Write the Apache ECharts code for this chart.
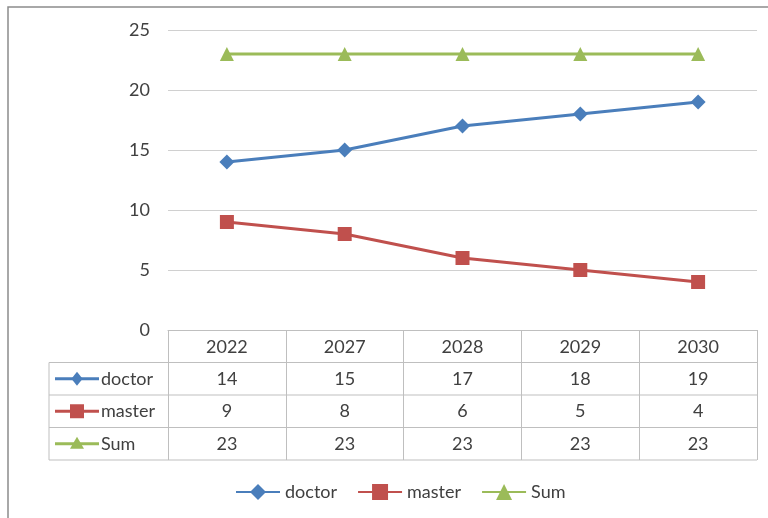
<!DOCTYPE html>
<html>
<head>
<meta charset="utf-8">
<script src="https://cdn.jsdelivr.net/npm/echarts@6/dist/echarts.min.js"></script>
<style>
  html, body { margin: 0; padding: 0; background: #fff; }
  #main { width: 768px; height: 518px; }
</style>
</head>
<body>
<div id="main"></div>
<script>
// chart data
var years = ['2022', '2027', '2028', '2029', '2030'];
var doctor = [14, 15, 17, 18, 19];
var master = [9, 8, 6, 5, 4];
var sum = [23, 23, 23, 23, 23];

var seriesNames = ['doctor', 'master', 'Sum'];
var seriesData = [doctor, master, sum];
var seriesColors = ['#4a7ebb', '#c0504d', '#9bbb59'];
var seriesSymbols = ['diamond', 'rect', 'triangle'];

var FONT = 'Lato';
var gridLeft = 168, gridTop = 30, gridRight = 11, plotHeight = 300;
var rowH = 32.5, tableLeft = 49;

var chart = echarts.init(document.getElementById('main'));

var series = seriesNames.map(function (name, i) {
    return {
        name: name,
        type: 'line',
        data: seriesData[i],
        symbol: seriesSymbols[i],
        symbolSize: i === 0 ? 15 : 14,
        itemStyle: { color: seriesColors[i] },
        lineStyle: { color: seriesColors[i], width: 3 },
        animation: false
    };
});

chart.setOption({
    backgroundColor: '#fff',
    animation: false,
    grid: { left: gridLeft, right: gridRight, top: gridTop, height: plotHeight },
    legend: {
        data: seriesNames,
        left: 230,
        top: 478,
        itemWidth: 44,
        itemHeight: 20,
        itemGap: 20,
        textStyle: { fontFamily: FONT, fontSize: 18, color: '#404040' }
    },
    xAxis: {
        type: 'category',
        data: years,
        boundaryGap: true,
        axisLine: { show: true, lineStyle: { color: '#bfbfbf', width: 1 } },
        axisTick: { show: true, inside: false, length: rowH * 4, interval: 0,
                    lineStyle: { color: '#bfbfbf', width: 1 } },
        axisLabel: { margin: 8, fontFamily: FONT, fontSize: 18, color: '#404040' },
        splitLine: { show: false }
    },
    yAxis: {
        type: 'value',
        min: 0,
        max: 25,
        interval: 5,
        axisLine: { show: false },
        axisTick: { show: false },
        axisLabel: { margin: 18, fontFamily: FONT, fontSize: 18, color: '#404040' },
        splitLine: { lineStyle: { color: '#d0d0d0', width: 1.2 } }
    },
    series: series
});

// data table below the plot
function buildTable() {
    var base = gridTop + plotHeight;
    var right = 768 - gridRight;
    var g = [];
    // outer frame of chart
    g.push({ type: 'rect', shape: { x: 8, y: 7, width: 800, height: 600 },
             style: { fill: null, stroke: '#8c8c8c', lineWidth: 1.5 }, z: 1 });
    for (var r = 1; r <= 4; r++) {
        g.push({ type: 'line', shape: { x1: tableLeft, y1: base + r * rowH, x2: right, y2: base + r * rowH },
                 style: { stroke: '#bfbfbf', lineWidth: 1 } });
    }
    g.push({ type: 'line', shape: { x1: tableLeft, y1: base + rowH, x2: tableLeft, y2: base + 4 * rowH },
             style: { stroke: '#bfbfbf', lineWidth: 1 } });

    seriesNames.forEach(function (name, i) {
        var cy = base + (i + 1.5) * rowH;
        var c = seriesColors[i];
        g.push({ type: 'line', shape: { x1: 55, y1: cy, x2: 99, y2: cy },
                 style: { stroke: c, lineWidth: 3 } });
        var mx = 77, s = 7;
        if (seriesSymbols[i] === 'diamond') {
            g.push({ type: 'polygon', shape: { points: [[mx, cy - s], [mx + s * 0.8, cy], [mx, cy + s], [mx - s * 0.8, cy]] },
                     style: { fill: c } });
        } else if (seriesSymbols[i] === 'rect') {
            g.push({ type: 'rect', shape: { x: mx - s, y: cy - s, width: 2 * s, height: 2 * s }, style: { fill: c } });
        } else {
            g.push({ type: 'polygon', shape: { points: [[mx, cy - s], [mx + s, cy + s * 0.7], [mx - s, cy + s * 0.7]] },
                     style: { fill: c } });
        }
        g.push({ type: 'text', style: { x: 101, y: cy, text: name, fontFamily: FONT, fontSize: 18,
                 fill: '#404040', verticalAlign: 'middle', align: 'left' } });
        seriesData[i].forEach(function (v, j) {
            var px = chart.convertToPixel({ xAxisIndex: 0 }, years[j]);
            g.push({ type: 'text', style: { x: px, y: cy, text: String(v), fontFamily: FONT, fontSize: 18,
                     fill: '#404040', align: 'center', verticalAlign: 'middle' } });
        });
    });
    chart.setOption({ graphic: g });
}
buildTable();
</script>
</body>
</html>
